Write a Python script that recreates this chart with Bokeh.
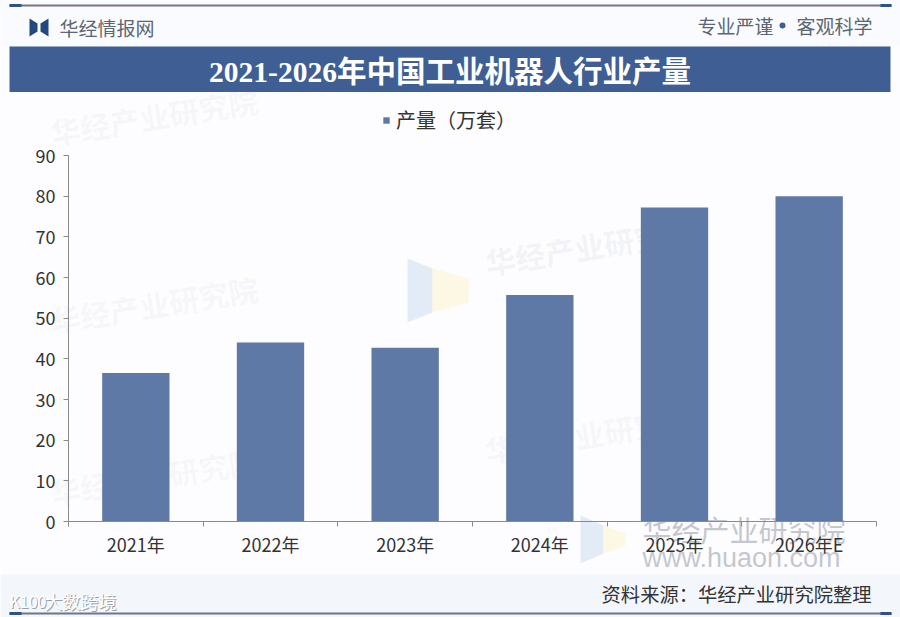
from bokeh.plotting import figure
from bokeh.core.properties import value
from bokeh.models import Range1d, FixedTicker, Legend, LegendItem, ColumnDataSource
from bokeh.embed import file_html
from bokeh.resources import INLINE

years = ["2021年", "2022年", "2023年", "2024年", "2025年", "2026年E"]
output = [36.5, 44.0, 42.7, 55.7, 77.2, 80.0]
series_name = "产量（万套）"
title_text = "2021-2026年中国工业机器人行业产量"
y_ticks = [0, 10, 20, 30, 40, 50, 60, 70, 80, 90]

CJK = "Noto Sans CJK SC"
BAR = "#5f79a6"
W, H = 900, 617
X0, X1, Y0, Y1 = 68, 876, 521, 155   # reference pixels of the plot frame

# ---------- page decoration: a figure whose data space is the reference's pixels ----------
d = figure(width=W, height=H, output_backend="svg", toolbar_location=None,
           x_range=Range1d(0, W), y_range=Range1d(H, 0),
           min_border=0, min_border_left=0, min_border_right=0, min_border_top=0, min_border_bottom=0,
           background_fill_color="#fdfdff", border_fill_color=None, outline_line_color=None)
d.grid.visible = False
d.axis.visible = False

def box(l, t, r, b, color, alpha=1.0):
    d.quad(left=[l], right=[r], top=[t], bottom=[b], fill_color=color, fill_alpha=alpha, line_color=None)

def label(x, y, text, size, color="#333333", font=CJK, style="normal", align="left", base="middle",
          alpha=1.0, angle=0, **kw):
    d.text(x=[x], y=[y], text=[text], text_font=value(font), text_font_size=f"{size}px", text_color=color,
           text_font_style=style, text_align=align, text_baseline=base, text_alpha=alpha, angle=angle,
           angle_units="deg", **kw)

box(0, 574, W, H, "#f3f6fb")
box(0, 0, W, 46, "#fafbfe")

WM = "#8f99ad"
for (wx, wy, wa) in [(50, 132, 0.07), (50, 320, 0.07), (485, 262, 0.10), (485, 450, 0.08), (50, 492, 0.06)]:
    label(wx, wy, "华经产业研究院", 30, WM, alpha=wa, angle=9, style="bold")
d.patches(xs=[[580, 603, 603, 580], [407, 432, 432, 407]], ys=[[515, 525, 553, 563], [258, 268, 312, 322]],
          fill_color="#dce6f4", line_color=None, fill_alpha=0.8)
d.patches(xs=[[603, 625, 625, 603], [432, 468, 468, 432]], ys=[[525, 533, 545, 553], [268, 278, 302, 312]],
          fill_color="#fdf6dc", line_color=None, fill_alpha=0.8)
label(642, 528, "华经产业研究院", 29, "#b5b9c2", alpha=0.8)
label(642, 557, "www.huaon.com", 27, "#b5b9c2", alpha=0.8, font="Liberation Sans")

box(9, 4, 891, 6, "#6f7787")
box(9, 3.5, 21, 6.5, "#2f5288")
box(880, 3.5, 891, 6.5, "#2f5288")
d.patches(xs=[[29, 37, 37, 29], [48, 40, 40, 48]], ys=[[18, 23, 31, 36], [18, 23, 31, 36]],
          fill_color="#23487f", line_color=None)
label(59, 27, "华经情报网", 19, "#5b6675")
label(773, 25, "专业严谨", 19, "#5b6675", align="right")
d.scatter(x=[782], y=[25], size=6, marker="circle", fill_color="#3f5f94", line_color=None)
label(872, 25, "客观科学", 19, "#5b6675", align="right")
box(9, 46, 890, 91.5, "#3f5f94")
label(449.5, 71, title_text, 29.5, "#ffffff", font="Liberation Serif, " + CJK, style="bold", align="center")

label(871, 593, "资料来源：华经产业研究院整理", 19.3, "#333333", align="right")
for off, col in [(1, "#9aa0aa"), (0, "#ffffff")]:
    label(44 + off, 600 + off, "大数跨境", 18, col)
    label(9 + off, 600 + off, "K100", 16, col)
box(9, 612, 891, 614, "#6f7787")
box(9, 611.5, 21, 614.5, "#2f5288")
box(880, 611.5, 891, 614.5, "#2f5288")

# legend lives in the full-page figure, so that it is not clipped to the chart's frame;
# its key is a bar of the same style lying outside the visible range
key = d.vbar(x=[-100], top=[-100], bottom=[-101], width=1, fill_color=BAR, line_color=None)
leg = Legend(items=[LegendItem(label=series_name, renderers=[key])],
             location=(382, H - 134), orientation="horizontal",
             background_fill_alpha=0, border_line_color=None,
             glyph_width=8, glyph_height=8, label_text_font=CJK, label_text_font_size="20px",
             label_text_color="#333333", margin=0, padding=0, label_standoff=6)
d.add_layout(leg, "center")

# ---------- chart, laid exactly over the decoration ----------
c = figure(width=W, height=H, output_backend="svg", toolbar_location=None,
           x_range=Range1d(0, 6), y_range=Range1d(0, 90),
           min_border_left=X0, min_border_right=W - X1, min_border_top=Y1, min_border_bottom=H - Y0,
           background_fill_color=None, border_fill_color=None, outline_line_color=None,
           styles={"position": "absolute", "left": "0px", "top": "0px"})
c.grid.visible = False

src = ColumnDataSource(dict(x=[i + 0.5 for i in range(len(years))], top=output))
c.vbar(x="x", top="top", bottom=0, width=0.5, source=src, fill_color=BAR, line_color=None)

xa = c.xaxis[0]
xa.ticker = FixedTicker(ticks=[i + 0.5 for i in range(len(years))], minor_ticks=list(range(len(years) + 1)))
xa.major_label_overrides = {i + 0.5: y for i, y in enumerate(years)}
xa.major_tick_line_color = None
xa.minor_tick_line_color = "#8a8a8a"
xa.minor_tick_out = 5
xa.minor_tick_in = 0
xa.axis_line_color = "#8a8a8a"
xa.major_label_text_font = CJK
xa.major_label_text_font_size = "18px"
xa.major_label_text_color = "#333333"
xa.major_label_standoff = 3

ya = c.yaxis[0]
ya.ticker = FixedTicker(ticks=y_ticks)
ya.major_tick_out = 5
ya.major_tick_in = 0
ya.minor_tick_line_color = None
ya.major_tick_line_color = "#8a8a8a"
ya.axis_line_color = "#8a8a8a"
ya.major_label_text_font = CJK
ya.major_label_text_font_size = "18px"
ya.major_label_text_color = "#333333"
ya.major_label_standoff = 8

p = [d, c]
open("out.html", "w").write(file_html(p, INLINE))
